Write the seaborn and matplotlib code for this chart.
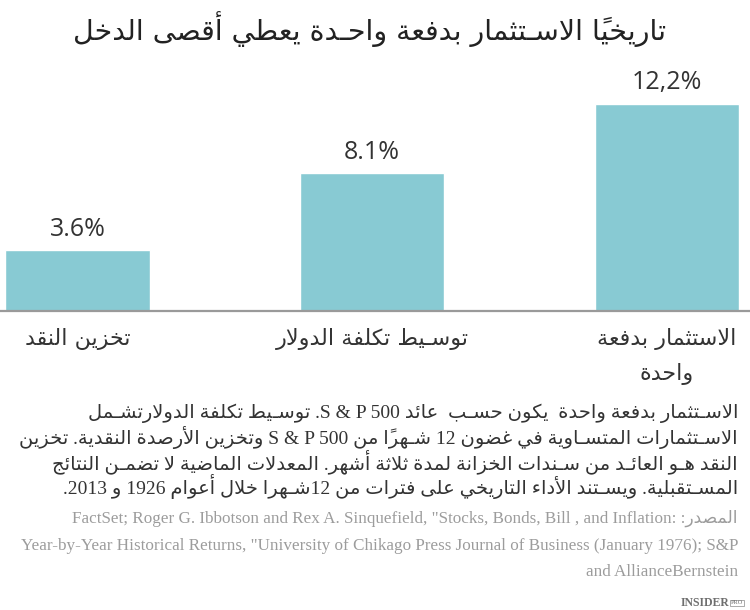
import matplotlib
matplotlib.use('Agg')
import matplotlib.pyplot as plt
import pandas as pd
import seaborn as sns

# chart data
categories = ['تخزين النقد', 'توسـيط تكلفة الدولار', 'الاستثمار بدفعة\nواحدة']
values = [3.6, 8.1, 12.2]
value_labels = ['3.6%', '8.1%', '12,2%']

title = 'تاريخياً الاسـتثمار بدفعة واحـدة يعطي أقصى الدخل'
note_lines = [
    'الاسـتثمار بدفعة واحدة  يكون حسـب  عائد S & P 500. توسـيط تكلفة الدولارتشـمل',
    'الاسـتثمارات المتسـاوية في غضون 12 شـهراً من S & P 500 وتخزين الأرصدة النقدية. تخزين',
    'النقد هـو العائـد من سـندات الخزانة لمدة ثلاثة أشهر. المعدلات الماضية لا تضمـن النتائج',
    'المسـتقبلية. ويسـتند الأداء التاريخي على فترات من 12شـهرا خلال أعوام 1926 و 2013.',
]
source_label = 'المصدر:'
source_lines = [
    'FactSet; Roger G. Ibbotson and Rex A. Sinquefield, "Stocks, Bonds, Bill , and Inflation:',
    'Year-by-Year Historical Returns, "University of Chikago Press Journal of Business (January 1976); S&P',
    'and AllianceBernstein',
]

BAR_COLOR = '#88cad3'
TEXT_COLOR = '#333333'
SOURCE_COLOR = '#9c9c9c'

# --- minimal arabic shaping + right-to-left ordering (matplotlib has no text shaping) ---
TATWEEL = '\u0640'
HARAKAT = set(chr(c) for c in range(0x064B, 0x0653))
RIGHT_JOIN = {'\u0622': 0xFE81, '\u0623': 0xFE83, '\u0624': 0xFE85, '\u0625': 0xFE87,
              '\u0627': 0xFE8D, '\u0629': 0xFE93, '\u062F': 0xFEA9, '\u0630': 0xFEAB,
              '\u0631': 0xFEAD, '\u0632': 0xFEAF, '\u0648': 0xFEED, '\u0649': 0xFEEF}
DUAL_JOIN = {'\u0626': 0xFE89, '\u0628': 0xFE8F, '\u062A': 0xFE95, '\u062B': 0xFE99,
             '\u062C': 0xFE9D, '\u062D': 0xFEA1, '\u062E': 0xFEA5, '\u0633': 0xFEB1,
             '\u0634': 0xFEB5, '\u0635': 0xFEB9, '\u0636': 0xFEBD, '\u0637': 0xFEC1,
             '\u0638': 0xFEC5, '\u0639': 0xFEC9, '\u063A': 0xFECD, '\u0641': 0xFED1,
             '\u0642': 0xFED5, '\u0643': 0xFED9, '\u0644': 0xFEDD, '\u0645': 0xFEE1,
             '\u0646': 0xFEE5, '\u0647': 0xFEE9, '\u064A': 0xFEF1}
LAM_ALEF = {'\u0622': 0xFEF5, '\u0623': 0xFEF7, '\u0625': 0xFEF9, '\u0627': 0xFEFB}


def joins_next(c):
    return c in DUAL_JOIN or c == TATWEEL


def joins_prev(c):
    return c in DUAL_JOIN or c in RIGHT_JOIN or c == TATWEEL


def shape(text):
    cl = []
    for c in text:
        if c in HARAKAT and cl:
            cl[-1][1] += c
        else:
            cl.append([c, ''])
    res = []
    prev_joins = False
    i = 0
    while i < len(cl):
        c, marks = cl[i]
        nxt = cl[i + 1][0] if i + 1 < len(cl) else ''
        if c == '\u0644' and nxt in LAM_ALEF:
            res.append((chr(LAM_ALEF[nxt] + (1 if prev_joins else 0)), marks + cl[i + 1][1]))
            prev_joins = False
            i += 2
            continue
        to_next = joins_next(c) and joins_prev(nxt)
        if c in DUAL_JOIN:
            idx = (1 if prev_joins else 0) + (2 if to_next else 0)
            res.append((chr(DUAL_JOIN[c] + idx), marks))
        elif c in RIGHT_JOIN:
            res.append((chr(RIGHT_JOIN[c] + (1 if prev_joins else 0)), marks))
            to_next = False
        else:
            res.append((c, marks))
        prev_joins = to_next
        i += 1
    return res


def direction(c):
    if '\u0600' <= c <= '\u06ff' or '\ufb50' <= c <= '\ufeff':
        return 'R'
    if c.isascii() and c.isalnum():
        return 'L'
    return 'N'


def rtl(line):
    cl = shape(line)
    dirs = [direction(c) for c, _ in cl]
    n = len(cl)
    resolved = list(dirs)
    for i in range(n):
        if dirs[i] == 'N':
            before = next((dirs[j] for j in range(i - 1, -1, -1) if dirs[j] != 'N'), 'R')
            after = next((dirs[j] for j in range(i + 1, n) if dirs[j] != 'N'), 'R')
            resolved[i] = 'L' if before == after == 'L' else 'R'
    runs = []
    for (c, m), d in zip(cl, resolved):
        if runs and runs[-1][0] == d:
            runs[-1][1].append(c + m)
        else:
            runs.append([d, [c + m]])
    return ''.join(''.join(items if d == 'L' else items[::-1]) for d, items in reversed(runs))


def rtl_block(text):
    return '\n'.join(rtl(line) for line in text.split('\n'))


sns.set_style('white')
plt.rcParams['font.family'] = ['DejaVu Sans']

fig = plt.figure(figsize=(7.5, 6.1), dpi=100)
ax = fig.add_axes([0, 0.49, 1, 0.41])

df = pd.DataFrame({'label': [rtl_block(c) for c in categories], 'value': values})
sns.barplot(data=df, x='label', y='value', color=BAR_COLOR, saturation=1,
            width=0.49, errorbar=None, ax=ax)
ax.set_xlim(-0.263, 2.282)
ax.set_ylim(0, 14.72)

ax.bar_label(ax.containers[0], labels=value_labels, padding=6, fontsize=18,
             family='Open Sans', color=TEXT_COLOR)

ax.set_xlabel('')
ax.set_ylabel('')
ax.set_yticks([])
ax.tick_params(axis='x', length=0, pad=12, labelsize=16, labelcolor=TEXT_COLOR)
for lbl in ax.get_xticklabels():
    lbl.set_linespacing(1.75)
sns.despine(ax=ax, left=True)
ax.spines['bottom'].set_color('#9a9a9a')
ax.spines['bottom'].set_linewidth(1.6)

fig.text(0.493, 0.952, rtl(title), ha='center', va='center', fontsize=20.5, color='#222222')

note_y = [0.323, 0.282, 0.243, 0.202]
for line, y in zip(note_lines, note_y):
    fig.text(0.984, y, rtl(line), ha='right', va='center', fontsize=14,
             color=TEXT_COLOR, family=['Liberation Serif', 'DejaVu Sans'])

src_y = [0.151, 0.105, 0.062]
src_text = [source_lines[0] + ' ' + rtl(source_label)] + source_lines[1:]
for line, y in zip(src_text, src_y):
    fig.text(0.984, y, line, ha='right', va='center', fontsize=12.3,
             color=SOURCE_COLOR, family=['Liberation Serif', 'DejaVu Sans'])

fig.text(0.972, 0.0115, 'INSIDER', ha='right', va='center', fontsize=8.5,
         fontweight='bold', family='Liberation Serif', color='#6e6e6e')
fig.text(0.975, 0.0115, 'PRO', ha='left', va='center', fontsize=4.5,
         family='Liberation Serif', color='#6e6e6e',
         bbox=dict(boxstyle='square,pad=0.15', fc='none', ec='#8a8a8a', lw=0.5))

fig.savefig('out.png', dpi=100)
